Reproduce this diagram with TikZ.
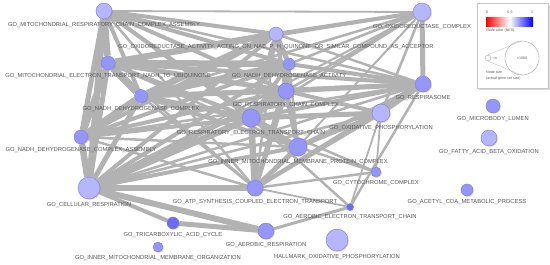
\documentclass[tikz,border=0pt]{standalone}
\usepackage{fontspec}
\setmainfont{Liberation Sans}
\usepackage{tikz}
\usetikzlibrary{shadows}

\definecolor{gsfill}{RGB}{150,150,248}
\definecolor{gslight}{RGB}{182,182,252}
\definecolor{gsdark}{RGB}{108,108,240}
\definecolor{gsline}{RGB}{120,120,215}
\definecolor{linkgray}{RGB}{178,178,178}
\definecolor{lbltext}{RGB}{85,85,85}
\pgfdeclarelayer{links}
\pgfsetlayers{links,main}

\begin{document}
\begin{tikzpicture}[x=1pt,y=-1pt,
   gset/.style={circle,draw=gsline,line width=0.4pt,fill=gsfill,inner sep=0pt,
     drop shadow={opacity=0.25,shadow xshift=1pt,shadow yshift=-1pt}},
   light/.style={fill=gslight},
   dark/.style={fill=gsdark},
   link/.style={draw=linkgray},
   every label/.style={font=\fontsize{5.8}{6}\selectfont,text=lbltext,inner sep=0.5pt},
   label distance=3pt,
   legtext/.style={font=\fontsize{3.6}{4}\selectfont,text=lbltext,inner sep=0pt}]
\useasboundingbox (0,0) rectangle (550,265);

% gene-set nodes
\node[gset,light,minimum size=16pt,label=below:GO\_MITOCHONDRIAL\_RESPIRATORY\_CHAIN\_COMPLEX\_ASSEMBLY] (mrcca) at (104,11) {};
\node[gset,light,minimum size=18pt,label=below:GO\_OXIDOREDUCTASE\_COMPLEX] (oxcomp) at (422,12) {};
\node[gset,light,minimum size=14pt,label=below:GO\_OXIDOREDUCTASE\_ACTIVITY\_ACTING\_ON\_NAD\_P\_H\_QUINONE\_OR\_SIMILAR\_COMPOUND\_AS\_ACCEPTOR] (oxact) at (276,34) {};
\node[gset,minimum size=14pt,label=below:GO\_MITOCHONDRIAL\_ELECTRON\_TRANSPORT\_NADH\_TO\_UBIQUINONE] (metnu) at (108,63) {};
\node[gset,minimum size=12pt,label=below:GO\_NADH\_DEHYDROGENASE\_ACTIVITY] (nadhact) at (289,64) {};
\node[gset,minimum size=13pt,label=below:GO\_NADH\_DEHYDROGENASE\_COMPLEX] (nadhcomp) at (141,96) {};
\node[gset,minimum size=16pt,label=below:GO\_RESPIRASOME] (respsome) at (423,84) {};
\node[gset,minimum size=16pt,label=below:GO\_RESPIRATORY\_CHAIN\_COMPLEX] (rcc) at (286,91) {};
\node[gset,minimum size=18pt,label=below:GO\_RESPIRATORY\_ELECTRON\_TRANSPORT\_CHAIN] (retc) at (251,118) {};
\node[gset,light,minimum size=18pt,label=below:GO\_OXIDATIVE\_PHOSPHORYLATION] (oxphos) at (381,113) {};
\node[gset,minimum size=14pt,label=below:GO\_MICROBODY\_LUMEN] (microbody) at (493,106) {};
\node[gset,light,minimum size=16pt,label=below:GO\_FATTY\_ACID\_BETA\_OXIDATION] (fao) at (489,138) {};
\node[gset,minimum size=14pt,label=below:GO\_NADH\_DEHYDROGENASE\_COMPLEX\_ASSEMBLY] (nadhasm) at (81,137) {};
\node[gset,minimum size=18pt,label=below:GO\_INNER\_MITOCHONDRIAL\_MEMBRANE\_PROTEIN\_COMPLEX] (immpc) at (298,147) {};
\node[gset,minimum size=10pt,label=below:GO\_CYTOCHROME\_COMPLEX] (cytc) at (376,172) {};
\node[gset,light,minimum size=22pt,label=below:GO\_CELLULAR\_RESPIRATION] (cellresp) at (89,188) {};
\node[gset,minimum size=16pt,label=below:GO\_ATP\_SYNTHESIS\_COUPLED\_ELECTRON\_TRANSPORT] (atp) at (255,188) {};
\node[gset,minimum size=12pt,label=below:GO\_ACETYL\_COA\_METABOLIC\_PROCESS] (acetyl) at (467,190) {};
\node[gset,dark,minimum size=7pt,label=below:GO\_AEROBIC\_ELECTRON\_TRANSPORT\_CHAIN] (aetc) at (350,207) {};
\node[gset,dark,minimum size=12pt,label=below:GO\_TRICARBOXYLIC\_ACID\_CYCLE] (tca) at (173,223) {};
\node[gset,minimum size=16pt,label=below:GO\_AEROBIC\_RESPIRATION] (aerresp) at (266,231) {};
\node[gset,minimum size=10pt,label=below:GO\_INNER\_MITOCHONDRIAL\_MEMBRANE\_ORGANIZATION] (immorg) at (158,247) {};
\node[gset,light,minimum size=22pt,label=below:HALLMARK\_OXIDATIVE\_PHOSPHORYLATION] (hallmark) at (337,240) {};

% overlap links, behind the nodes
\begin{pgfonlayer}{links}
\foreach \u/\v/\w in {mrcca/oxcomp/1.8, mrcca/oxact/4, mrcca/metnu/6.5, mrcca/nadhact/4,
    mrcca/nadhcomp/4, mrcca/rcc/4, mrcca/retc/4, mrcca/nadhasm/5, mrcca/immpc/2.5,
    mrcca/cellresp/6.5, mrcca/atp/2.5, mrcca/respsome/2.5,
    oxcomp/oxact/4, oxcomp/nadhact/2.5, oxcomp/rcc/2.5, oxcomp/retc/2.5, oxcomp/respsome/5,
    oxcomp/oxphos/2.5, oxcomp/nadhcomp/2.5, oxcomp/metnu/2.5, oxcomp/immpc/2, oxcomp/cellresp/2,
    oxact/metnu/6.5, oxact/nadhact/5, oxact/nadhcomp/6.5, oxact/rcc/4, oxact/retc/4,
    oxact/nadhasm/4, oxact/cellresp/4, oxact/respsome/2.5, oxact/immpc/2.5, oxact/atp/2.5,
    metnu/nadhact/6.5, metnu/nadhcomp/7.5, metnu/rcc/5, metnu/retc/4, metnu/nadhasm/6.5,
    metnu/cellresp/5, metnu/respsome/4, metnu/immpc/2.5, metnu/atp/2.5,
    nadhact/nadhcomp/6.5, nadhact/rcc/5, nadhact/retc/4, nadhact/respsome/4, nadhact/nadhasm/4,
    nadhact/cellresp/4, nadhact/atp/2.5, nadhact/immpc/2.5,
    nadhcomp/rcc/5, nadhcomp/retc/5, nadhcomp/nadhasm/6.5, nadhcomp/cellresp/5,
    nadhcomp/respsome/4, nadhcomp/immpc/4, nadhcomp/atp/2.5,
    rcc/retc/6.5, rcc/respsome/5, rcc/immpc/5, rcc/oxphos/4, rcc/nadhasm/4, rcc/cellresp/5, rcc/atp/5,
    retc/respsome/4, retc/oxphos/5, retc/immpc/5, retc/nadhasm/4, retc/cellresp/6.5, retc/atp/6.5,
    retc/cytc/2.5, retc/aetc/2.5,
    respsome/oxphos/5, respsome/immpc/4, respsome/nadhasm/2.5, respsome/cellresp/2.5,
    respsome/atp/4, respsome/aetc/2.5,
    oxphos/immpc/4, oxphos/atp/4, oxphos/cellresp/2.5, oxphos/cytc/1.8, oxphos/aetc/1.8,
    nadhasm/cellresp/6.5, nadhasm/immpc/2.5, nadhasm/atp/2.5,
    immpc/cellresp/4, immpc/atp/5, immpc/cytc/2.5,
    cellresp/atp/6.5, cellresp/tca/4, cellresp/aerresp/6,
    atp/cytc/2.5, atp/aetc/1.8, tca/aerresp/5, aerresp/aetc/3}
  \draw[link,line width=\w pt] (\u) -- (\v);
\end{pgfonlayer}

% legend
\node[draw=gray!45,fill=white,line width=0.5pt,minimum width=71pt,minimum height=85pt,
  inner sep=0pt,drop shadow={opacity=0.3,shadow xshift=1.5pt,shadow yshift=-1.5pt}]
  (legend) at (512.5,45.5) {};
\shade[left color=red,right color=blue,middle color=white] (486,17) rectangle (533,26);
\node[legtext] (c0) at (487,12) {0};
\node[legtext] (c5) at (510,12) {0.5};
\node[legtext] (c1) at (532,12) {1};
\node[legtext,anchor=west] (ctitle) at (486,31) {Node color (NES)};
\node[circle,draw=gray!70,line width=0.4pt,minimum size=6pt,inner sep=0pt] (small) at (488,58) {};
\node[circle,draw=gray!70,line width=0.4pt,minimum size=34pt,inner sep=0pt] (big) at (522,58) {};
\node[legtext,anchor=west] (sn) at (492.5,58) {<n};
\node[legtext] (bn) at (522,58) {>1000};
\draw[gray!55,line width=0.3pt] (small.north) -- (big.north);
\draw[gray!55,line width=0.3pt] (small.south) -- (big.south);
\node[legtext,anchor=west] (stitle) at (486,72) {Node size};
\node[legtext,anchor=west] (ssub) at (486,79) {(actual gene-set size)};
\end{tikzpicture}
\end{document}
